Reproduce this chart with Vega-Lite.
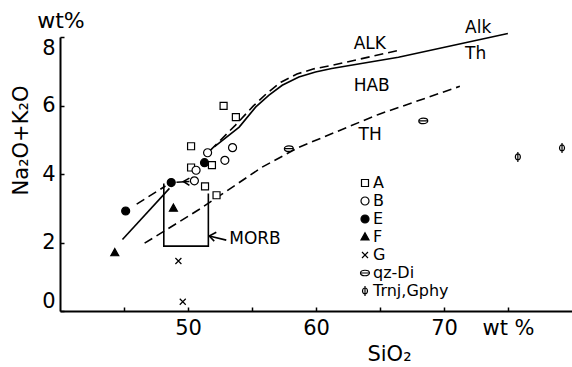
{
  "$schema": "https://vega.github.io/schema/vega-lite/v6.json",
  "width": 512,
  "height": 274,
  "autosize": {"type": "none"},
  "padding": {"left": 60, "top": 37, "right": 0, "bottom": 56},
  "background": "white",
  "config": {
    "view": {"stroke": null},
    "font": "DejaVu Sans",
    "axis": {
      "domainColor": "black", "domainWidth": 2,
      "tickColor": "black", "tickWidth": 1.5, "tickSize": -4,
      "labelColor": "black", "labelFontSize": 21, "labelFont": "DejaVu Sans",
      "grid": false,
      "titleFont": "DejaVu Sans", "titleFontSize": 21, "titleFontWeight": "normal", "titleColor": "black"
    },
    "legend": {"symbolStrokeColor": "black", "symbolStrokeWidth": 1.2}
  },
  "layer": [
    {
      "data": {"values": [
        {"seg": "alkth", "ord": 1, "x": 52.05, "y": 4.79},
        {"seg": "alkth", "ord": 2, "x": 54.00, "y": 5.37},
        {"seg": "alkth", "ord": 3, "x": 55.30, "y": 5.96},
        {"seg": "alkth", "ord": 4, "x": 56.33, "y": 6.30},
        {"seg": "alkth", "ord": 5, "x": 57.36, "y": 6.59},
        {"seg": "alkth", "ord": 6, "x": 58.66, "y": 6.83},
        {"seg": "alkth", "ord": 7, "x": 59.96, "y": 6.98},
        {"seg": "alkth", "ord": 8, "x": 61.23, "y": 7.08},
        {"seg": "alkth", "ord": 9, "x": 66.44, "y": 7.41},
        {"seg": "alkth", "ord": 10, "x": 74.99, "y": 8.10},
        {"seg": "low", "ord": 1, "x": 44.88, "y": 2.09},
        {"seg": "low", "ord": 2, "x": 48.55, "y": 3.58},
        {"seg": "morb", "ord": 1, "x": 48.11, "y": 3.72},
        {"seg": "morb", "ord": 2, "x": 48.11, "y": 1.895},
        {"seg": "morb", "ord": 3, "x": 51.59, "y": 1.895},
        {"seg": "morb", "ord": 4, "x": 51.59, "y": 3.43},
        {"seg": "arrow", "ord": 1, "x": 51.66, "y": 2.19},
        {"seg": "arrow", "ord": 2, "x": 52.99, "y": 2.07},
        {"seg": "head", "ord": 1, "x": 52.21, "y": 2.30},
        {"seg": "head", "ord": 2, "x": 51.66, "y": 2.19},
        {"seg": "head", "ord": 3, "x": 52.05, "y": 2.04},
        {"seg": "earrow", "ord": 1, "x": 49.10, "y": 3.76},
        {"seg": "earrow", "ord": 2, "x": 50.11, "y": 3.78},
        {"seg": "ehead", "ord": 1, "x": 50.11, "y": 3.88},
        {"seg": "ehead", "ord": 2, "x": 49.64, "y": 3.78},
        {"seg": "ehead", "ord": 3, "x": 50.11, "y": 3.67}
      ]},
      "mark": {"type": "line", "stroke": "black", "strokeWidth": 1.6},
      "encoding": {
        "x": {"field": "x", "type": "quantitative",
          "scale": {"domain": [40, 80], "nice": false, "zero": false},
          "axis": {"values": [45, 50, 55, 60, 65, 70, 75],
            "labelExpr": "datum.value == 75 ? 'wt %' : (datum.value % 10 == 0 ? datum.label : '')",
            "labelPadding": 10, "labelFlush": false, "labelOverlap": false,
            "title": "SiO₂", "titleX": 329, "titleY": 49, "titleAlign": "center", "titleBaseline": "alphabetic"}},
        "y": {"field": "y", "type": "quantitative",
          "scale": {"domain": [0, 8], "nice": false, "zero": false},
          "axis": {"values": [0, 1, 2, 3, 4, 5, 6, 7, 8],
            "labelExpr": "datum.value % 2 == 0 ? datum.label : ''",
            "labelPadding": 9, "labelOverlap": false, "labelFlush": true,
            "title": "Na₂O+K₂O", "titleX": -33, "titleY": 103, "titleAngle": 270, "titleAlign": "center", "titleBaseline": "alphabetic"}},
        "detail": {"field": "seg"},
        "order": {"field": "ord"}
      }
    },
    {
      "data": {"values": [
        {"seg": "alk", "ord": 1, "x": 51.74, "y": 4.69},
        {"seg": "alk", "ord": 2, "x": 53.69, "y": 5.42},
        {"seg": "alk", "ord": 3, "x": 55.09, "y": 5.98},
        {"seg": "alk", "ord": 4, "x": 56.17, "y": 6.36},
        {"seg": "alk", "ord": 5, "x": 57.26, "y": 6.68},
        {"seg": "alk", "ord": 6, "x": 58.51, "y": 6.92},
        {"seg": "alk", "ord": 7, "x": 59.83, "y": 7.07},
        {"seg": "alk", "ord": 8, "x": 61.23, "y": 7.17},
        {"seg": "alk", "ord": 9, "x": 66.67, "y": 7.63},
        {"seg": "th", "ord": 1, "x": 46.61, "y": 1.98},
        {"seg": "th", "ord": 2, "x": 50.89, "y": 2.97},
        {"seg": "th", "ord": 3, "x": 55.79, "y": 4.20},
        {"seg": "th", "ord": 4, "x": 58.66, "y": 4.78},
        {"seg": "th", "ord": 5, "x": 64.88, "y": 5.74},
        {"seg": "th", "ord": 6, "x": 71.24, "y": 6.56},
        {"seg": "ee", "ord": 1, "x": 45.99, "y": 3.12},
        {"seg": "ee", "ord": 2, "x": 48.24, "y": 3.65}
      ]},
      "mark": {"type": "line", "stroke": "black", "strokeWidth": 1.6, "strokeDash": [9, 5]},
      "encoding": {
        "x": {"field": "x", "type": "quantitative"},
        "y": {"field": "y", "type": "quantitative"},
        "detail": {"field": "seg"},
        "order": {"field": "ord"}
      }
    },
    {
      "data": {"values": [
        {"label": "ALK", "x": 62.94, "y": 7.81},
        {"label": "Alk", "x": 71.65, "y": 8.25},
        {"label": "Th", "x": 71.65, "y": 7.49},
        {"label": "HAB", "x": 62.94, "y": 6.56},
        {"label": "TH", "x": 63.33, "y": 5.13},
        {"label": "MORB", "x": 53.22, "y": 2.10}
      ]},
      "mark": {"type": "text", "align": "left", "baseline": "middle", "fontSize": 17, "font": "DejaVu Sans", "color": "black"},
      "encoding": {
        "x": {"field": "x", "type": "quantitative"},
        "y": {"field": "y", "type": "quantitative"},
        "text": {"field": "label"}
      }
    },
    {
      "data": {"values": [
        {"label": "wt%", "x": 40, "y": 8}
      ]},
      "mark": {"type": "text", "align": "center", "baseline": "alphabetic", "dy": -9, "dx": 1, "fontSize": 22, "font": "DejaVu Sans", "color": "black"},
      "encoding": {
        "x": {"field": "x", "type": "quantitative"},
        "y": {"field": "y", "type": "quantitative"},
        "text": {"field": "label"}
      }
    },
    {
      "data": {"values": [
        {"type": "A", "x": 52.78, "y": 5.99},
        {"type": "A", "x": 53.74, "y": 5.66},
        {"type": "A", "x": 50.24, "y": 4.81},
        {"type": "A", "x": 50.24, "y": 4.19},
        {"type": "A", "x": 51.87, "y": 4.26},
        {"type": "A", "x": 51.33, "y": 3.64},
        {"type": "A", "x": 52.23, "y": 3.38},
        {"type": "B", "x": 51.53, "y": 4.62},
        {"type": "B", "x": 53.48, "y": 4.77},
        {"type": "B", "x": 52.88, "y": 4.40},
        {"type": "B", "x": 50.63, "y": 4.11},
        {"type": "B", "x": 50.50, "y": 3.80},
        {"type": "E", "x": 51.29, "y": 4.33},
        {"type": "E", "x": 48.69, "y": 3.75},
        {"type": "E", "x": 45.13, "y": 2.92},
        {"type": "F", "x": 48.86, "y": 3.00},
        {"type": "F", "x": 44.28, "y": 1.70},
        {"type": "G", "x": 49.25, "y": 1.46},
        {"type": "G", "x": 49.59, "y": 0.27},
        {"type": "qz-Di", "x": 57.88, "y": 4.74},
        {"type": "qz-Di", "x": 68.38, "y": 5.55},
        {"type": "Trnj,Gphy", "x": 75.77, "y": 4.50},
        {"type": "Trnj,Gphy", "x": 79.22, "y": 4.76}
      ]},
      "mark": {"type": "point", "strokeWidth": 1.2, "size": 100, "opacity": 1},
      "encoding": {
        "x": {"field": "x", "type": "quantitative"},
        "y": {"field": "y", "type": "quantitative"},
        "shape": {"field": "type", "type": "nominal",
          "scale": {"domain": ["A", "B", "E", "F", "G", "qz-Di", "Trnj,Gphy"],
            "range": [
              "M-0.7,-0.7H0.7V0.7H-0.7Z",
              "M-0.8,0A0.8,0.8 0 1,0 0.8,0A0.8,0.8 0 1,0 -0.8,0Z",
              "M-0.8,0A0.8,0.8 0 1,0 0.8,0A0.8,0.8 0 1,0 -0.8,0Z",
              "M0,-0.85L0.8,0.6L-0.8,0.6Z",
              "M-0.6,-0.6L0.6,0.6M-0.6,0.6L0.6,-0.6",
              "M-0.9,0A0.9,0.55 0 1,0 0.9,0A0.9,0.55 0 1,0 -0.9,0ZM-0.9,0H0.9",
              "M-0.5,0A0.5,0.6 0 1,0 0.5,0A0.5,0.6 0 1,0 -0.5,0ZM0,-1V1"
            ]},
          "legend": {"orient": "none", "legendX": 297, "legendY": 138, "title": null, "padding": 0,
            "labelFontSize": 16, "labelFont": "DejaVu Sans", "labelColor": "black", "labelOffset": 0,
            "rowPadding": 2, "symbolSize": 100}},
        "fill": {"field": "type", "type": "nominal",
          "scale": {"domain": ["A", "B", "E", "F", "G", "qz-Di", "Trnj,Gphy"],
            "range": ["white", "white", "black", "black", "transparent", "transparent", "transparent"]},
          "legend": {"orient": "none", "legendX": 297, "legendY": 138, "title": null, "padding": 0,
            "labelFontSize": 16, "labelFont": "DejaVu Sans", "labelColor": "black", "labelOffset": 0,
            "rowPadding": 2, "symbolSize": 100}},
        "stroke": {"field": "type", "type": "nominal",
          "scale": {"domain": ["A", "B", "E", "F", "G", "qz-Di", "Trnj,Gphy"],
            "range": ["black", "black", "black", "black", "black", "black", "black"]},
          "legend": {"orient": "none", "legendX": 297, "legendY": 138, "title": null, "padding": 0,
            "labelFontSize": 16, "labelFont": "DejaVu Sans", "labelColor": "black", "labelOffset": 0,
            "rowPadding": 2, "symbolSize": 100}}
      }
    }
  ]
}
